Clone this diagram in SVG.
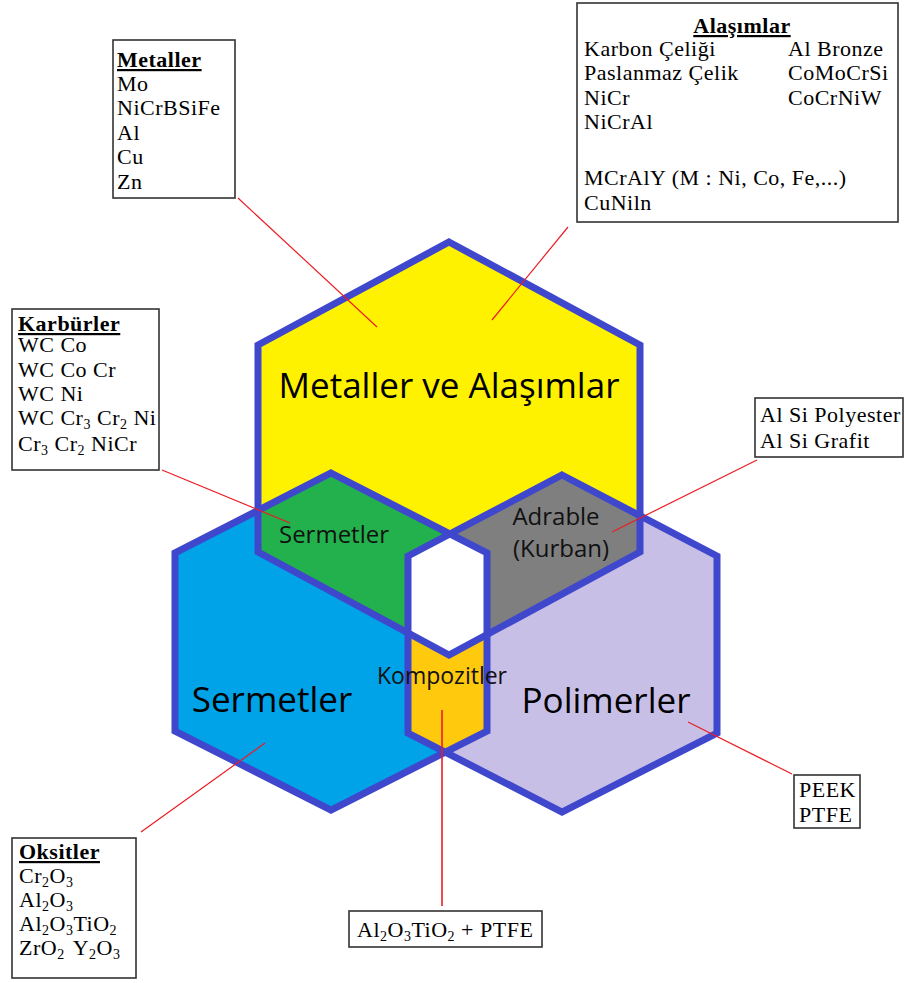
<svg xmlns="http://www.w3.org/2000/svg" width="904" height="983" viewBox="0 0 904 983">
<style>
.box{fill:#fff;stroke:#333;stroke-width:1.6}
.bt{font-family:"Liberation Serif","Times New Roman",serif;font-size:22px;fill:#000;letter-spacing:0.5px}
.ttl{font-weight:bold;text-decoration:underline}
.sub{font-size:14px}
.big{font-family:"Open Sans","Noto Sans",sans-serif;font-size:35px;fill:#000}
.sm{font-family:"Open Sans","Noto Sans",sans-serif;font-size:24px;fill:#111}
.hx{fill:none;stroke:#3F48CC;stroke-width:7;stroke-linejoin:miter}
.ld{stroke:#ED1C24;stroke-width:1.2;fill:none}
</style>
<defs>
<clipPath id="cY"><polygon points="449,242 640,345 640,552 449,655 258,552 258,345"/></clipPath>
<clipPath id="cB"><polygon points="331,473 487,553 487,731 331,810 175,731 175,553"/></clipPath>
<clipPath id="cP"><polygon points="562,475 717,556 717,733 562,812 408,733 408,556"/></clipPath>
</defs>
<rect width="904" height="983" fill="#fff"/>
<g id="hexagons">
<polygon points="449,242 640,345 640,552 449,655 258,552 258,345" fill="#FFF200"/>
<polygon points="331,473 487,553 487,731 331,810 175,731 175,553" fill="#00A2E8"/>
<polygon points="562,475 717,556 717,733 562,812 408,733 408,556" fill="#C8BFE7"/>
<polygon points="331,473 487,553 487,731 331,810 175,731 175,553" fill="#22B14C" clip-path="url(#cY)"/>
<polygon points="562,475 717,556 717,733 562,812 408,733 408,556" fill="#7F7F7F" clip-path="url(#cY)"/>
<polygon points="562,475 717,556 717,733 562,812 408,733 408,556" fill="#FFC90E" clip-path="url(#cB)"/>
<g clip-path="url(#cY)"><polygon points="562,475 717,556 717,733 562,812 408,733 408,556" fill="#fff" clip-path="url(#cB)"/></g>
<polygon class="hx" points="449,242 640,345 640,552 449,655 258,552 258,345"/>
<polygon class="hx" points="331,473 487,553 487,731 331,810 175,731 175,553"/>
<polygon class="hx" points="562,475 717,556 717,733 562,812 408,733 408,556"/>
</g>
<g id="hex-labels">
<text class="big" x="449" y="398" text-anchor="middle">Metaller ve Alaşımlar</text>
<text class="big" x="272" y="712" text-anchor="middle">Sermetler</text>
<text class="big" x="606" y="713" text-anchor="middle">Polimerler</text>
<text class="sm" x="334" y="543" text-anchor="middle">Sermetler</text>
<text class="sm" x="556" y="525" text-anchor="middle">Adrable</text>
<text class="sm" x="561" y="557" text-anchor="middle">(Kurban)</text>
<text class="sm" x="442" y="684" text-anchor="middle" style="font-size:23px">Kompozitler</text>
</g>
<g id="connectors">
<line class="ld" x1="238" y1="198" x2="377" y2="327"/>
<line class="ld" x1="568" y1="227" x2="492" y2="320"/>
<line class="ld" x1="162" y1="470" x2="290" y2="523"/>
<line class="ld" x1="757" y1="460" x2="612" y2="532"/>
<line class="ld" x1="688" y1="722" x2="792" y2="774"/>
<line class="ld" x1="141" y1="832" x2="265" y2="743"/>
<line class="ld" x1="442" y1="710" x2="442" y2="906" style="stroke-width:1.6"/>
</g>
<g id="metaller">
<rect class="box" x="113" y="40" width="122" height="158"/>
<text class="bt" x="117"><tspan class="ttl" x="117" y="67">Metaller</tspan><tspan x="117" y="91">Mo</tspan><tspan x="117" y="115">NiCrBSiFe</tspan><tspan x="117" y="140">Al</tspan><tspan x="117" y="164">Cu</tspan><tspan x="117" y="189">Zn</tspan></text>
</g>
<g id="alasimlar">
<rect class="box" x="577" y="3" width="321" height="219"/>
<text class="bt ttl" x="742" y="33" text-anchor="middle">Alaşımlar</text>
<text class="bt"><tspan x="584" y="56">Karbon Çeliği</tspan><tspan x="584" y="80">Paslanmaz Çelik</tspan><tspan x="584" y="105">NiCr</tspan><tspan x="584" y="129">NiCrAl</tspan><tspan x="584" y="185">MCrAlY (M : Ni, Co, Fe,...)</tspan><tspan x="584" y="210">CuNiln</tspan></text>
<text class="bt"><tspan x="788" y="56">Al Bronze</tspan><tspan x="788" y="80">CoMoCrSi</tspan><tspan x="788" y="105">CoCrNiW</tspan></text>
</g>
<g id="karburler">
<rect class="box" x="12" y="309" width="147" height="161"/>
<text class="bt ttl" x="18" y="331">Karbürler</text>
<text class="bt" x="18" y="352">WC Co</text>
<text class="bt" x="18" y="377">WC Co Cr</text>
<text class="bt" x="18" y="401">WC Ni</text>
<text class="bt" x="18" y="425">WC Cr<tspan class="sub" dy="4">3</tspan><tspan dy="-4"> Cr</tspan><tspan class="sub" dy="4">2</tspan><tspan dy="-4"> Ni</tspan></text>
<text class="bt" x="18" y="451">Cr<tspan class="sub" dy="4">3</tspan><tspan dy="-4"> Cr</tspan><tspan class="sub" dy="4">2</tspan><tspan dy="-4"> NiCr</tspan></text>
</g>
<g id="alsi">
<rect class="box" x="755" y="398" width="148" height="59"/>
<text class="bt"><tspan x="760" y="422">Al Si Polyester</tspan><tspan x="760" y="448">Al Si Grafit</tspan></text>
</g>
<g id="peek">
<rect class="box" x="794" y="775" width="66" height="53"/>
<text class="bt"><tspan x="799" y="797">PEEK</tspan><tspan x="799" y="822">PTFE</tspan></text>
</g>
<g id="oksitler">
<rect class="box" x="12" y="838" width="124" height="140"/>
<text class="bt ttl" x="19" y="859">Oksitler</text>
<text class="bt" x="19" y="883">Cr<tspan class="sub" dy="4">2</tspan><tspan dy="-4">O</tspan><tspan class="sub" dy="4">3</tspan></text>
<text class="bt" x="19" y="907">Al<tspan class="sub" dy="4">2</tspan><tspan dy="-4">O</tspan><tspan class="sub" dy="4">3</tspan></text>
<text class="bt" x="19" y="931">Al<tspan class="sub" dy="4">2</tspan><tspan dy="-4">O</tspan><tspan class="sub" dy="4">3</tspan><tspan dy="-4">TiO</tspan><tspan class="sub" dy="4">2</tspan></text>
<text class="bt" x="19" y="955">ZrO<tspan class="sub" dy="4">2</tspan><tspan dy="-4" dx="8">Y</tspan><tspan class="sub" dy="4">2</tspan><tspan dy="-4">O</tspan><tspan class="sub" dy="4">3</tspan></text>
</g>
<g id="kompozit-box">
<rect class="box" x="349" y="911" width="193" height="36"/>
<text class="bt" x="357" y="937">Al<tspan class="sub" dy="4">2</tspan><tspan dy="-4">O</tspan><tspan class="sub" dy="4">3</tspan><tspan dy="-4">TiO</tspan><tspan class="sub" dy="4">2</tspan><tspan dy="-4"> + PTFE</tspan></text>
</g>
</svg>
